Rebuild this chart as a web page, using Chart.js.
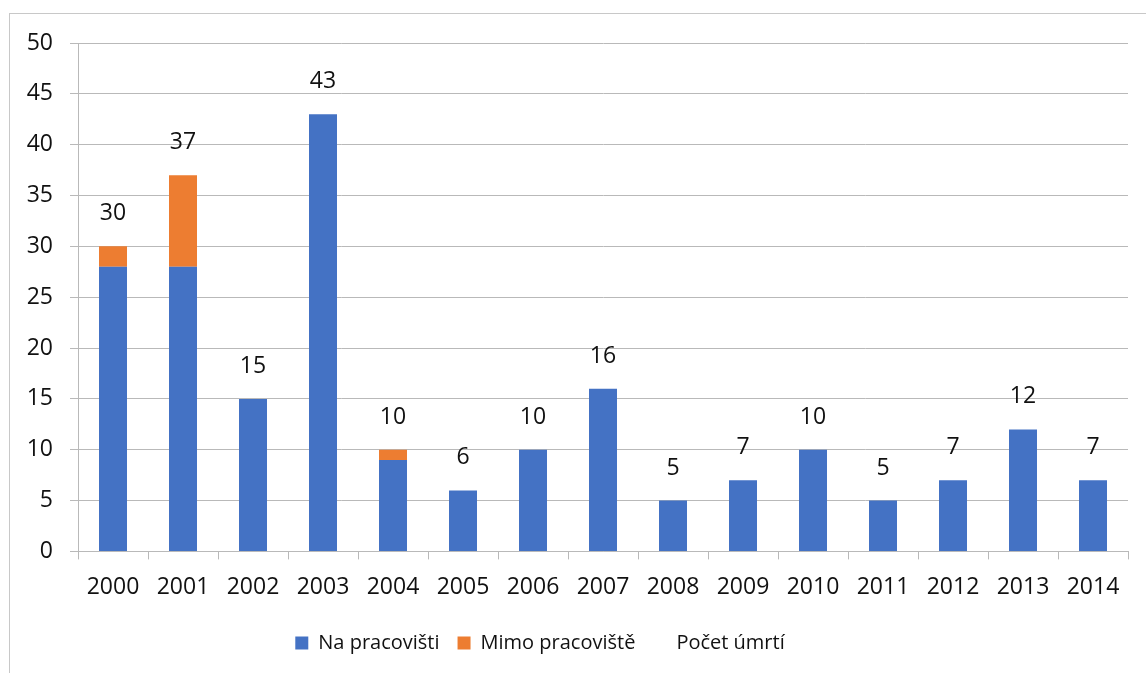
<!DOCTYPE html>
<html>
<head>
<meta charset="utf-8">
<script src="https://cdn.jsdelivr.net/npm/chart.js@4/dist/chart.umd.min.js"></script>
<style>
    body { margin: 0; background: #fff; overflow: hidden; }
    #wrap { position: relative; width: 1146px; height: 673px; }
    #frame {
        position: absolute; left: 9px; top: 13px; width: 1200px; height: 700px;
        border-left: 1px solid #c8c8c8; border-top: 1px solid #c8c8c8;
    }
    #chart { position: absolute; left: 0; top: 0; }
</style>
</head>
<body>
<div id="wrap">
    <div id="frame"></div>
    <canvas id="chart" width="1146" height="673"></canvas>
</div>
<script>
// Data
const years = ['2000', '2001', '2002', '2003', '2004', '2005', '2006', '2007', '2008', '2009', '2010', '2011', '2012', '2013', '2014'];
const naPracovisti = [28, 28, 15, 43, 9, 6, 10, 16, 5, 7, 10, 5, 7, 12, 7];
const mimoPracoviste = [2, 9, 0, 0, 1, 0, 0, 0, 0, 0, 0, 0, 0, 0, 0];
const pocetUmrti = [30, 37, 15, 43, 10, 6, 10, 16, 5, 7, 10, 5, 7, 12, 7];
const yTicks = [0, 5, 10, 15, 20, 25, 30, 35, 40, 45, 50];

const fontFamily = '"Open Sans", "Noto Sans", sans-serif';
const textColor = '#111';
const gridColor = '#b9b9b9';

// Draw total labels above the bars, at positions of the hidden total series
const totalLabels = {
    id: 'totalLabels',
    afterDatasetsDraw(chart) {
        const ctx = chart.ctx;
        const meta = chart.getDatasetMeta(2);
        ctx.save();
        ctx.font = '23px ' + fontFamily;
        ctx.fillStyle = textColor;
        ctx.textAlign = 'center';
        ctx.textBaseline = 'alphabetic';
        meta.data.forEach((pt, i) => {
            ctx.fillText(String(pocetUmrti[i]), pt.x, pt.y - 26);
        });
        ctx.restore();
    }
};

// Legend sits a bit left of the centre in the original
const legendShift = {
    id: 'legendShift',
    afterLayout(chart) {
        chart.legend.left -= 24;
        chart.legend.right -= 24;
    }
};

const ctx = document.getElementById('chart').getContext('2d');
new Chart(ctx, {
    type: 'bar',
    data: {
        labels: years,
        datasets: [
            {
                label: 'Na pracovišti',
                data: naPracovisti,
                backgroundColor: '#4472C4',
                stack: 'a',
                categoryPercentage: 1,
                barPercentage: 0.4
            },
            {
                label: 'Mimo pracoviště',
                data: mimoPracoviste,
                backgroundColor: '#ED7D31',
                stack: 'a',
                categoryPercentage: 1,
                barPercentage: 0.4
            },
            {
                type: 'line',
                label: 'Počet úmrtí',
                data: pocetUmrti,
                stack: 'total',
                showLine: false,
                pointRadius: 0,
                backgroundColor: 'transparent',
                borderColor: 'transparent',
                borderWidth: 0
            }
        ]
    },
    options: {
        responsive: false,
        animation: false,
        layout: {
            padding: { top: 43, right: 18, bottom: 10, left: 0 }
        },
        scales: {
            x: {
                stacked: true,
                grid: {
                    display: true,
                    drawOnChartArea: false,
                    drawTicks: true,
                    tickLength: 8,
                    color: gridColor
                },
                border: { color: gridColor },
                ticks: {
                    font: { family: fontFamily, size: 23 },
                    color: textColor,
                    padding: 14,
                    maxRotation: 0
                }
            },
            y: {
                stacked: true,
                min: 0,
                max: 50,
                afterBuildTicks(scale) {
                    scale.ticks = yTicks.map(v => ({ value: v }));
                },
                afterFit(scale) {
                    scale.width = 78;
                },
                grid: {
                    color: gridColor,
                    tickLength: 8
                },
                border: { color: gridColor },
                ticks: {
                    font: { family: fontFamily, size: 23 },
                    color: textColor,
                    padding: 17
                }
            }
        },
        plugins: {
            legend: {
                position: 'bottom',
                labels: {
                    font: { family: fontFamily, size: 20 },
                    color: textColor,
                    boxWidth: 13,
                    boxHeight: 13,
                    padding: 18
                }
            },
            tooltip: { enabled: false }
        }
    },
    plugins: [totalLabels, legendShift]
});
</script>
</body>
</html>
